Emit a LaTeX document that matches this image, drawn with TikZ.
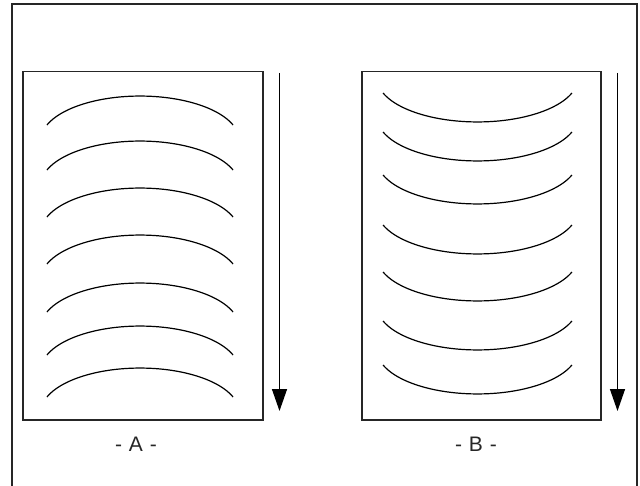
\documentclass[tikz,border=0pt]{standalone}
\usepackage{fontspec}
\setmainfont{Liberation Sans}
\usetikzlibrary{arrows.meta}
\begin{document}
\begin{tikzpicture}[x=1pt,y=-1pt,
  frame/.style={draw=black!85,line width=1.6pt},
  boxline/.style={draw=black!85,line width=1.5pt},
  curve/.style={draw=black,line width=1.2pt},
  flow/.style={draw=black,line width=1.4pt,-{Triangle[length=22pt,width=15pt]}},
  lab/.style={font=\fontsize{21}{25}\selectfont,text=black!85,inner sep=0pt}]
\useasboundingbox (0,0) rectangle (640,486);
\draw[frame] (12,486) -- (12,4) -- (637,4) -- (637,486);
% boxes
\node[boxline,minimum width=240pt,minimum height=348pt,inner sep=0pt,anchor=north west] (boxA) at (22,71) {};
\node[boxline,minimum width=239pt,minimum height=348pt,inner sep=0pt,anchor=north west] (boxB) at (361,71) {};
% arrows
\coordinate (a1) at (279.5,73);
\coordinate (a2) at (279.5,411);
\coordinate (b1) at (617.5,73);
\coordinate (b2) at (617.5,411);
\draw[flow] (a1) -- (a2);
\draw[flow] (b1) -- (b2);
% arcs A (convex upward)
\foreach \e in {125,170,217,264,312,355,397}{
  \draw[curve] plot[domain=20:160,samples=50,smooth] ({140+99*cos(\x)},{\e+15.05-44*sin(\x)});
}
% arcs B (concave upward)
\foreach \e in {93,132,175,225,272,321,365}{
  \draw[curve] plot[domain=20:160,samples=50,smooth] ({477.5+100.5*cos(\x)},{\e-15.05+44*sin(\x)});
}
% labels
\node[lab] (labA) at (136,444) {-\,\,A\,\,-};
\node[lab] (labB) at (476,444) {-\,\,B\,\,-};
\end{tikzpicture}
\end{document}
